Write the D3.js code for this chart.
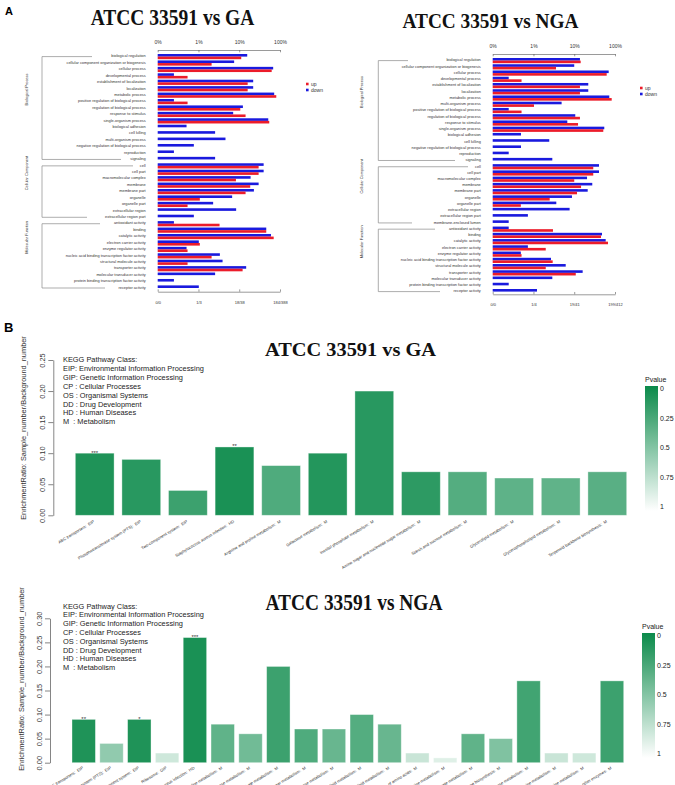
<!DOCTYPE html>
<html><head><meta charset="utf-8">
<script src="https://cdn.jsdelivr.net/npm/d3@7"></script>
<style>body{margin:0;background:#fff}svg{display:block}</style>
</head><body>
<svg id="c" width="675" height="785"></svg>
<script>
// ---------------- DATA ----------------
const goTermsGA = ["biological regulation","cellular component organization or biogenesis","cellular process","developmental process","establishment of localization","localization","metabolic process","positive regulation of biological process","regulation of biological process","response to stimulus","single-organism process","biological adhesion","cell killing","multi-organism process","negative regulation of biological process","reproduction","signaling","cell","cell part","macromolecular complex","membrane","membrane part","organelle","organelle part","extracellular region","extracellular region part","antioxidant activity","binding","catalytic activity","electron carrier activity","enzyme regulator activity","nucleic acid binding transcription factor activity","structural molecule activity","transporter activity","molecular transducer activity","protein binding transcription factor activity","receptor activity"];
const goUpGA = [11.2,2.1,62.5,0.54,16.1,16.1,81,0.54,10.6,14.3,54.5,null,null,null,null,null,null,29.9,29.9,8.3,18.6,14.3,1.08,0.54,null,null,3.29,46,70,1.08,0.54,2.1,0.54,12.1,null,null,null];
const goDownGA = [15.7,7.5,68,0.25,22,22,72,0.25,12.3,7.1,51.5,0.51,2.56,4.6,0.77,0.25,2.56,39.7,39.7,19,29.9,22.9,6.7,2.29,8.4,0.77,0.25,46,60,1.02,0.51,3.35,3.9,14.8,2.56,0.25,1.02];
const goGroupsGA = [["Biological Process",0,16],["Cellular Component",17,25],["Molecular Function",26,36]];

const goTermsNGA = ["biological regulation","cellular component organization or biogenesis","cellular process","developmental process","establishment of localization","localization","metabolic process","multi-organism process","positive regulation of biological process","regulation of biological process","response to stimulus","single-organism process","biological adhesion","cell killing","negative regulation of biological process","reproduction","signaling","cell","cell part","macromolecular complex","membrane","membrane part","organelle","organelle part","extracellular region","extracellular region part","membrane-enclosed lumen","antioxidant activity","binding","catalytic activity","electron carrier activity","enzyme regulator activity","nucleic acid binding transcription factor activity","structural molecule activity","transporter activity","molecular transducer activity","protein binding transcription factor activity","receptor activity"];
const goUpNGA = [14.4,3.57,62.5,0.51,13.8,13.8,83,1.03,0.51,13.8,12.4,51.6,null,null,null,null,null,29.3,29.3,10.0,14.7,11.7,2.5,0.49,null,null,null,3.01,45.3,67.3,2.0,0.51,2.96,2.0,10.9,null,null,null];
const goDownNGA = [13.8,10.0,70,0.247,22.1,22.1,72.4,4.9,0.247,10.6,6.76,54.6,0.494,2.44,0.494,0.247,2.9,40.5,40.5,20.6,27.7,21.4,8.8,3.63,7.7,0.73,0.247,0.247,48,59.1,0.73,0.49,2.69,6.18,16.1,2.9,0.247,1.22];
const goGroupsNGA = [["Biological Process",0,16],["Cellular Component",17,26],["Molecular Function",27,37]];

const pctTickValues = [0.1,1,10,100];
const pctTickLabels = ["0%","1%","10%","100%"];
const countTickLabelsGA = ["0/0","1/3","18/38","184/388"];
const countTickLabelsNGA = ["0/0","1/4","19/41","199/412"];
const goLegend = ["up","down"];

const keggNamesGA = ["ABC transporters:  EIP","Phosphotransferase system (PTS):  EIP","Two-component system:  EIP","Staphylococcus aureus infection:  HD","Arginine and proline metabolism:  M","Galactose metabolism:  M","Inositol phosphate metabolism:  M","Amino sugar and nucleotide sugar metabolism:  M","Starch and sucrose metabolism:  M","Glycerolipid metabolism:  M","Glycerophospholipid metabolism:  M","Terpenoid backbone biosynthesis:  M"];
const keggRatioGA = [0.10,0.09,0.04,0.11,0.08,0.10,0.20,0.07,0.07,0.06,0.06,0.07];
const keggPvalGA = [0.08,0.12,0.20,0.06,0.28,0.10,0.12,0.14,0.30,0.34,0.35,0.32];
const keggStarsGA = ["***","","","**","","","","","","","",""];

const keggNamesNGA = ["ABC transporters:  EIP","Phosphotransferase system (PTS):  EIP","Two-component system:  EIP","Ribosome:  GIP","Staphylococcus aureus infection:  HD","Arginine and proline metabolism:  M","Galactose metabolism:  M","Inositol phosphate metabolism:  M","Amino sugar and nucleotide sugar metabolism:  M","Starch and sucrose metabolism:  M","Glycerolipid metabolism:  M","Glycerophospholipid metabolism:  M","Biosynthesis of amino acids:  M","Purine metabolism:  M","Pyruvate metabolism:  M","Terpenoid backbone biosynthesis:  M","Fructose and mannose metabolism:  M","Glycine, serine and threonine metabolism:  M","Cysteine and methionine metabolism:  M","Drug metabolism - other enzymes:  M"];
const keggRatioNGA = [0.09,0.04,0.09,0.02,0.26,0.08,0.06,0.20,0.07,0.07,0.10,0.08,0.02,0.01,0.06,0.05,0.17,0.02,0.02,0.17];
const keggPvalNGA = [0.08,0.55,0.08,0.80,0.06,0.35,0.42,0.20,0.28,0.38,0.30,0.38,0.78,0.87,0.35,0.48,0.22,0.78,0.80,0.20];
const keggStarsNGA = ["**","","*","","***","","","","","","","","","","","","","","",""];

const keggClassLines = ["KEGG Pathway Class:","EIP: Environmental Information Processing","GIP: Genetic Information Processing","CP : Cellular Processes","OS : Organismal Systems","DD : Drug Development","HD : Human Diseases","M  : Metabolism"];
const yTicksGA = [0,0.05,0.10,0.15,0.20,0.25];
const yTicksNGA = [0,0.05,0.10,0.15,0.20,0.25,0.30];
const pLegendTicks = [0,0.25,0.5,0.75,1];

// ---------------- DRAW ----------------
const svg = d3.select("#c");
const SANS = "'Liberation Sans', Arial, Helvetica, sans-serif";
const SERIF = "'Liberation Serif', 'Times New Roman', serif";
const RED = "#ec1c2a", BLUE = "#1a1ade";
const colorP = p => d3.interpolateRgb("#0b8a4a", "#ffffff")(p);

function title(txt, cx, base, size, ky) {
  svg.append("text").attr("transform", `translate(${cx},${base}) scale(1,${ky})`)
    .attr("text-anchor", "middle").attr("font-family", SERIF).attr("font-weight", "bold")
    .attr("font-size", size).attr("fill", "#111").text(txt);
}
function styleAxis(sel, fs) {
  sel.attr("font-family", SANS).attr("font-size", fs);
  sel.select(".domain").attr("stroke", "#555").attr("stroke-width", 0.6);
  sel.selectAll(".tick line").attr("stroke", "#555").attr("stroke-width", 0.6);
  sel.selectAll(".tick text").attr("fill", "#333");
}

svg.append("text").attr("x", 5).attr("y", 14.5).attr("font-family", SANS).attr("font-weight", "bold").attr("font-size", 11).text("A");
svg.append("text").attr("x", 4).attr("y", 331.5).attr("font-family", SANS).attr("font-weight", "bold").attr("font-size", 13).text("B");

function drawGO(o) {
  const g = svg.append("g");
  const x = d3.scaleLog().domain([0.1, 100]).range([o.x0, o.x1]);
  const y = d3.scalePoint().domain(d3.range(o.terms.length)).range([o.rowTop, o.rowBot]);
  const h = 2.6;

  const top = g.append("g").attr("transform", `translate(0,${o.axTop})`)
    .call(d3.axisTop(x).tickValues(pctTickValues).tickFormat(d => pctTickLabels[pctTickValues.indexOf(d)])
      .tickSizeInner(-2.3).tickSizeOuter(0).tickPadding(6.5));
  styleAxis(top, 5);
  const bot = g.append("g").attr("transform", `translate(0,${o.axBot})`)
    .call(d3.axisBottom(x).tickValues(pctTickValues).tickFormat(d => o.countLabels[pctTickValues.indexOf(d)])
      .tickSizeInner(-2.3).tickSizeOuter(0).tickPadding(9));
  styleAxis(bot, 4);

  o.terms.forEach((t, i) => {
    g.append("text").attr("x", o.labelRight).attr("y", y(i)).attr("dy", "0.35em")
      .attr("text-anchor", "end").attr("font-family", SANS).attr("font-size", 3.9).attr("fill", "#333").text(t);
    if (o.down[i] != null)
      g.append("rect").attr("x", o.x0).attr("y", y(i) - h + 0.6).attr("width", x(o.down[i]) - o.x0).attr("height", h).attr("fill", BLUE);
    if (o.up[i] != null)
      g.append("rect").attr("x", o.x0).attr("y", y(i) + 0.6).attr("width", x(o.up[i]) - o.x0).attr("height", h).attr("fill", RED);
  });

  o.groups.forEach((gr, k) => {
    const y1 = y(gr[1]) + 0.6, y2 = y(gr[2]) + 0.6;
    g.append("path").attr("d", `M${o.brEnds[k][0]},${y1}H${o.bx}V${y2}H${o.brEnds[k][1]}`)
      .attr("fill", "none").attr("stroke", "#8a8a8a").attr("stroke-width", 0.7);
    g.append("text").attr("transform", `translate(${o.gx},${(y1 + y2) / 2 - 18.5}) rotate(-90)`)
      .attr("text-anchor", "middle").attr("font-family", SANS).attr("font-size", 3.9).attr("fill", "#333").text(gr[0]);
  });

  [RED, BLUE].forEach((c, k) => {
    const ly = o.legY + k * 6;
    g.append("rect").attr("x", o.legX).attr("y", ly - 1.3).attr("width", 2.6).attr("height", 2.6).attr("fill", c);
    g.append("text").attr("x", o.legX + 5).attr("y", ly).attr("dy", "0.35em").attr("font-family", SANS)
      .attr("font-size", 5).attr("fill", "#333").text(goLegend[k]);
  });
}

drawGO({terms: goTermsGA, up: goUpGA, down: goDownGA, groups: goGroupsGA, countLabels: countTickLabelsGA,
  x0: 157.7, x1: 280, rowTop: 56, rowBot: 287.4, axTop: 50, axBot: 291.7, labelRight: 145.7,
  bx: 42, gx: 27.5, brEnds: [[92, 121], [133, 87], [100, 105]], legX: 306, legY: 84});
drawGO({terms: goTermsNGA, up: goUpNGA, down: goDownNGA, groups: goGroupsNGA, countLabels: countTickLabelsNGA,
  x0: 492.7, x1: 615, rowTop: 60, rowBot: 291, axTop: 54, axBot: 294.3, labelRight: 480.8,
  bx: 378.3, gx: 363, brEnds: [[408, 455], [468, 412], [435, 440]], legX: 640, legY: 88});

title("ATCC 33591 vs GA", 172.5, 25, 19.5, 1.15);
title("ATCC 33591 vs NGA", 490.5, 28, 19.3, 1.05);

function drawKegg(o) {
  const g = svg.append("g");
  const x = d3.scaleBand().domain(d3.range(o.names.length)).range([o.xa, o.xb]).paddingInner(o.pad).paddingOuter(o.pad / 2);
  const y = d3.scaleLinear().domain([0, o.yMax]).range([o.yBase, o.yTop]);

  const ax = g.append("g").attr("transform", `translate(${o.axisX},0)`)
    .call(d3.axisLeft(y).tickValues(o.yTicks).tickFormat(d3.format(".2f")).tickSizeOuter(0).tickSizeInner(5));
  styleAxis(ax, 7.4);
  ax.select(".domain").attr("stroke", "#333");
  ax.selectAll(".tick line").attr("stroke", "#333");
  ax.selectAll(".tick text").attr("x", null).attr("dy", null).attr("text-anchor", "middle")
    .attr("transform", `translate(${o.tickLabOff},0) rotate(-90)`);

  g.append("text").attr("transform", `translate(${o.ytX},${o.ytY}) rotate(-90)`).attr("text-anchor", "middle")
    .attr("font-family", SANS).attr("font-size", 7.4).attr("fill", "#333").text("EnrichmentRatio: Sample_number/Background_number");

  keggClassLines.forEach((t, i) => {
    g.append("text").attr("x", 63).attr("y", o.kY + i * o.kStep).attr("font-family", SANS).attr("font-size", 7.4)
      .attr("fill", "#222").attr("xml:space", "preserve").style("white-space", "pre").text(t);
  });

  o.names.forEach((n, i) => {
    g.append("rect").attr("x", x(i)).attr("y", y(o.ratio[i])).attr("width", x.bandwidth())
      .attr("height", y(0) - y(o.ratio[i])).attr("fill", colorP(o.pval[i]))
      .attr("stroke", "#ffffff").attr("stroke-opacity", 0.45).attr("stroke-width", 0.8);
    if (o.stars[i]) g.append("text").attr("x", x(i) + x.bandwidth() / 2).attr("y", y(o.ratio[i]) + 1.5)
      .attr("text-anchor", "middle").attr("font-family", SANS).attr("font-size", 6).attr("fill", "#333").text(o.stars[i]);
    g.append("text").attr("transform", `translate(${x(i) + x.bandwidth() / 2},${o.yBase + o.labOff}) rotate(-31)`)
      .attr("text-anchor", "end").attr("font-family", SANS).attr("font-size", 4.1).attr("fill", "#333")
      .style("white-space", "pre").text(n);
  });

  // colour legend
  const gid = "grad" + o.id;
  const grad = svg.append("defs").append("linearGradient").attr("id", gid).attr("x1", 0).attr("y1", 0).attr("x2", 0).attr("y2", 1);
  d3.range(0, 1.001, 0.1).forEach(p => grad.append("stop").attr("offset", p).attr("stop-color", colorP(p)));
  g.append("rect").attr("x", o.lgX).attr("y", o.lgY).attr("width", 13).attr("height", 125).attr("fill", `url(#${gid})`);
  g.append("text").attr("x", o.lgX).attr("y", o.lgY - 4).attr("font-family", SANS).attr("font-size", 7).attr("fill", "#222").text("Pvalue");
  const ps = d3.scaleLinear().domain([0, 1]).range([o.lgY + 3, o.lgY + 121]);
  pLegendTicks.forEach(p => g.append("text").attr("x", o.lgX + 15).attr("y", ps(p)).attr("dy", "0.35em")
    .attr("font-family", SANS).attr("font-size", 7).attr("fill", "#222").text(p));
}

drawKegg({id: "ga", names: keggNamesGA, ratio: keggRatioGA, pval: keggPvalGA, stars: keggStarsGA,
  xa: 71.4, xb: 630.6, pad: 0.168, yMax: 0.25, yTicks: yTicksGA, yBase: 515.3, yTop: 360,
  axisX: 53.3, tickLabOff: -8, ytX: 25.5, ytY: 428, kY: 362, kStep: 8.9, labOff: 7, lgX: 645, lgY: 386});
drawKegg({id: "nga", names: keggNamesNGA, ratio: keggRatioNGA, pval: keggPvalNGA, stars: keggStarsNGA,
  xa: 69.8, xb: 625.9, pad: 0.158, yMax: 0.30, yTicks: yTicksNGA, yBase: 762.7, yTop: 618.3,
  axisX: 50, tickLabOff: -8.5, ytX: 24, ytY: 679, kY: 608.5, kStep: 8.8, labOff: 6, lgX: 642, lgY: 633});

title("ATCC 33591 vs GA", 350.5, 356, 20.4, 0.95);
title("ATCC 33591 vs NGA", 354, 610, 19.4, 1.17);
</script>
</body></html>
